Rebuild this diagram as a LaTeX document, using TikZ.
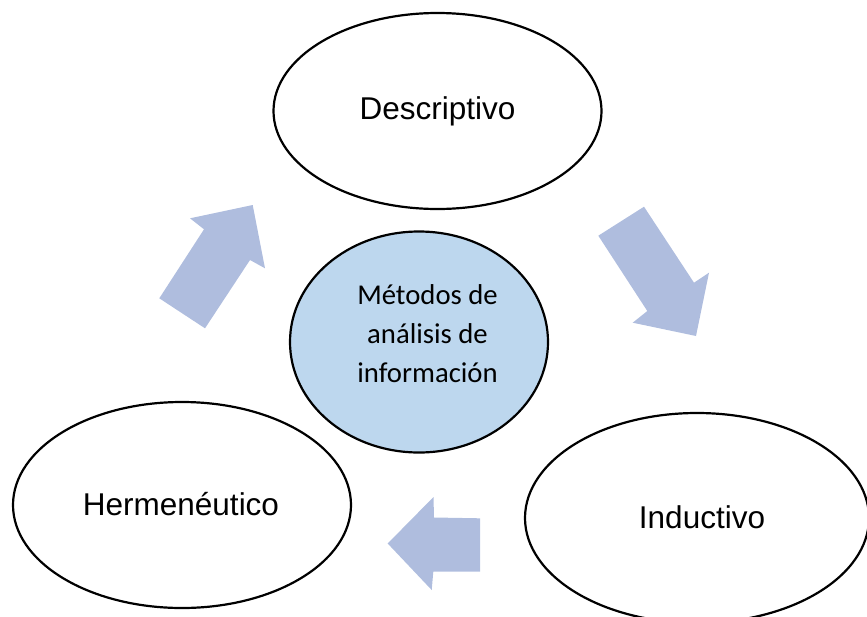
\documentclass[tikz,border=0pt]{standalone}
\usepackage{fontspec}
\setmainfont{Liberation Sans}
\newfontfamily\carlito{Carlito}
\usetikzlibrary{shapes.geometric}
\definecolor{arrowblue}{RGB}{175,189,222}
\definecolor{centerblue}{RGB}{189,215,238}
\tikzset{
  outerell/.style={draw=black, line width=2.2pt, fill=white},
  outertext/.style={font=\fontsize{31.5}{36}\selectfont},
  centertext/.style={font=\carlito\fontsize{28.7}{36}\selectfont, anchor=base, inner sep=0pt},
  blockarrow/.style={fill=arrowblue, draw=none}
}
\begin{document}
\begin{tikzpicture}[x=1pt, y=-1pt]
\useasboundingbox (0,0) rectangle (867,616);
% outer ellipses
\draw[outerell] (437.5,111) ellipse [x radius=164, y radius=98];
\node[outertext] (desc) at (437.5,111) {Descriptivo};
\draw[outerell] (182,505) ellipse [x radius=169, y radius=103];
\node[outertext] (herm) at (181,504) {Hermenéutico};
\draw[outerell] (697,518) ellipse [x radius=172, y radius=105];
\node[outertext] (induc) at (702,517) {Inductivo};
% center ellipse
\draw[draw=black, line width=2.2pt, fill=centerblue] (419,342) ellipse [x radius=129, y radius=110.5];
\node[centertext] (t1) at (427.5,304) {Métodos de};
\node[centertext] (t2) at (427.5,343) {análisis de};
\node[centertext] (t3) at (427.5,382) {información};
% block arrows
\fill[blockarrow] (159.3,298.3) -- (205,328.3) -- (250,260) -- (265,268.3) -- (252.7,205) -- (190,218.3) -- (204,229.3) -- cycle;
\fill[blockarrow] (598.3,235.7) -- (644,206.7) -- (694,282.7) -- (709,272.7) -- (696,336) -- (632.7,322.7) -- (647.3,311) -- cycle;
\fill[blockarrow] (387.7,543.5) -- (433.5,497) -- (434,517.5) -- (480,518.3) -- (480,571.7) -- (433.3,571.7) -- (431.7,590) -- cycle;
\end{tikzpicture}
\end{document}
